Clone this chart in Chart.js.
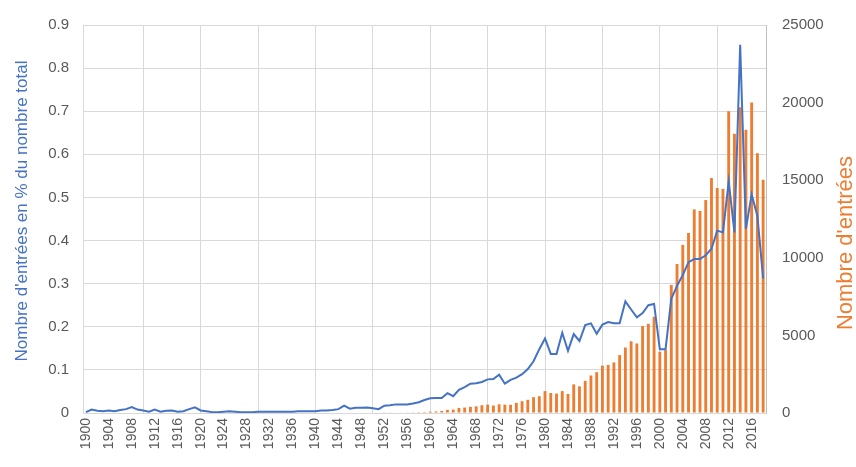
<!DOCTYPE html>
<html>
<head>
<meta charset="utf-8">
<script src="https://cdn.jsdelivr.net/npm/chart.js@4"></script>
<style>
  body { margin: 0; background: #fff; }
  #wrap { width: 856px; height: 467px; position: relative; }
</style>
</head>
<body>
<div id="wrap"><canvas id="entriesChart"></canvas></div>
<script>
const years = [
  "1900","1901","1902","1903","1904","1905","1906","1907","1908","1909",
  "1910","1911","1912","1913","1914","1915","1916","1917","1918","1919",
  "1920","1921","1922","1923","1924","1925","1926","1927","1928","1929",
  "1930","1931","1932","1933","1934","1935","1936","1937","1938","1939",
  "1940","1941","1942","1943","1944","1945","1946","1947","1948","1949",
  "1950","1951","1952","1953","1954","1955","1956","1957","1958","1959",
  "1960","1961","1962","1963","1964","1965","1966","1967","1968","1969",
  "1970","1971","1972","1973","1974","1975","1976","1977","1978","1979",
  "1980","1981","1982","1983","1984","1985","1986","1987","1988","1989",
  "1990","1991","1992","1993","1994","1995","1996","1997","1998","1999",
  "2000","2001","2002","2003","2004","2005","2006","2007","2008","2009",
  "2010","2011","2012","2013","2014","2015","2016","2017","2018"
];

// share of entries (%), left axis
const sharePct = [
  0.002, 0.008, 0.005, 0.004, 0.006, 0.004, 0.007, 0.009, 0.014, 0.008,
  0.006, 0.003, 0.008, 0.003, 0.005, 0.006, 0.003, 0.004, 0.009, 0.013,
  0.006, 0.004, 0.002, 0.002, 0.003, 0.004, 0.003, 0.002, 0.002, 0.002,
  0.003, 0.003, 0.003, 0.003, 0.003, 0.003, 0.003, 0.004, 0.004, 0.004,
  0.004, 0.006, 0.006, 0.007, 0.009, 0.017, 0.010, 0.012, 0.012, 0.013,
  0.011, 0.009, 0.017, 0.018, 0.020, 0.020, 0.020, 0.022, 0.025, 0.030,
  0.034, 0.035, 0.035, 0.046, 0.039, 0.054, 0.060, 0.068, 0.069, 0.072,
  0.078, 0.079, 0.089, 0.068, 0.077, 0.082, 0.090, 0.102, 0.120, 0.148,
  0.173, 0.137, 0.137, 0.186, 0.144, 0.183, 0.167, 0.204, 0.208, 0.184,
  0.205, 0.211, 0.208, 0.208, 0.259, 0.240, 0.222, 0.232, 0.250, 0.253,
  0.148, 0.148, 0.265, 0.295, 0.320, 0.350, 0.357, 0.357, 0.366, 0.381,
  0.423, 0.419, 0.537, 0.419, 0.854, 0.427, 0.507, 0.457, 0.312
];

// number of entries, right axis
const entryCounts = [
  null, null, null, null, null, null, null, null, null, null,
  null, null, null, null, null, null, null, null, null, null,
  null, null, null, null, null, null, null, null, null, null,
  null, null, null, null, null, null, null, null, null, null,
  null, null, null, null, null, null, null, null, null, null,
  null, null, 20, 25, 30, 35, 40, 45, 50, 60,
  85, 100, 130, 200, 220, 320, 350, 400, 430, 500,
  540, 480, 560, 540, 530, 650, 760, 850, 1020, 1080,
  1410, 1290, 1250, 1410, 1230, 1845, 1717, 2070, 2417, 2630,
  3050, 3100, 3260, 3730, 4220, 4620, 4480, 5600, 5750, 6200,
  3950, 4050, 8250, 9600, 10830, 11600, 13120, 13020, 13720, 15140,
  14500, 14440, 19440, 18000, 19700, 18250, 20000, 16730, 15030
];

const leftTicks = [0, 0.1, 0.2, 0.3, 0.4, 0.5, 0.6, 0.7, 0.8, 0.9];
const rightTicks = [0, 5000, 10000, 15000, 20000, 25000];

const leftTitle = "Nombre d'entrées en % du nombre total";
const rightTitle = "Nombre d'entrées";

const FONT = '"Liberation Sans", Arial, sans-serif';

// both axis titles read bottom-to-top and sit a bit off-centre, so draw them here
const axisTitlesPlugin = {
  id: 'axisTitles',
  afterDraw(chart) {
    const ctx = chart.ctx;
    const mid = (chart.chartArea.top + chart.chartArea.bottom) / 2;
    const draw = (text, x, y, size, color) => {
      ctx.save();
      ctx.translate(x, y);
      ctx.rotate(-Math.PI / 2);
      ctx.font = size + 'px ' + FONT;
      ctx.fillStyle = color;
      ctx.textAlign = 'center';
      ctx.textBaseline = 'middle';
      ctx.fillText(text, 0, 0);
      ctx.restore();
    };
    draw(leftTitle, chart.scales.y.left + 22, mid - 8, 17, '#4472C4');
    draw(rightTitle, chart.scales.y1.right - 10, mid + 24, 22, '#ED7D31');
  }
};

document.addEventListener("DOMContentLoaded", function () {
  const ctx = document.getElementById('entriesChart').getContext('2d');

  new Chart(ctx, {
    type: 'bar',
    data: {
      labels: years,
      datasets: [{
        type: 'line',
        label: 'Part',
        data: sharePct,
        yAxisID: 'y',
        borderColor: '#4472C4',
        borderWidth: 2,
        pointRadius: 0,
        tension: 0,
        order: 0
      }, {
        type: 'bar',
        label: 'Nombre',
        data: entryCounts,
        yAxisID: 'y1',
        backgroundColor: '#ED7D31',
        barPercentage: 0.5,
        categoryPercentage: 1,
        order: 1
      }]
    },
    options: {
      responsive: true,
      maintainAspectRatio: false,
      animation: false,
      layout: { padding: { top: 20, left: 0, right: 0, bottom: 0 } },
      plugins: {
        legend: { display: false },
        tooltip: { enabled: false }
      },
      scales: {
        x: {
          offset: true,
          grid: {
            offset: false,
            drawTicks: false,
            color: c => (c.index % 10 === 0 && c.index > 0) ? '#d9d9d9' : 'rgba(0,0,0,0)'
          },
          border: { color: '#d9d9d9' },
          ticks: {
            autoSkip: false,
            minRotation: 90,
            maxRotation: 90,
            padding: 5,
            color: '#595959',
            font: { family: FONT, size: 14 },
            callback: function (v, i) { return i % 4 === 0 ? this.getLabelForValue(v) : ''; }
          },
          afterFit: s => { s.height = 54; }
        },
        y: {
          position: 'left',
          min: leftTicks[0],
          max: leftTicks[leftTicks.length - 1],
          afterBuildTicks: s => { s.ticks = leftTicks.map(v => ({ value: v })); },
          grid: { color: '#d9d9d9', drawTicks: false },
          border: { color: '#d9d9d9' },
          ticks: {
            padding: 14,
            color: '#595959',
            font: { family: FONT, size: 15 },
            callback: v => v === 0 ? '0' : v.toFixed(1)
          },
          afterFit: s => { s.width = 83; }
        },
        y1: {
          position: 'right',
          min: rightTicks[0],
          max: rightTicks[rightTicks.length - 1],
          afterBuildTicks: s => { s.ticks = rightTicks.map(v => ({ value: v })); },
          grid: { drawOnChartArea: false, drawTicks: false },
          border: { color: '#bfbfbf' },
          ticks: {
            padding: 16,
            color: '#595959',
            font: { family: FONT, size: 15 },
            callback: v => String(v)
          },
          afterFit: s => { s.width = 90; }
        }
      }
    },
    plugins: [axisTitlesPlugin]
  });
});
</script>
</body>
</html>
